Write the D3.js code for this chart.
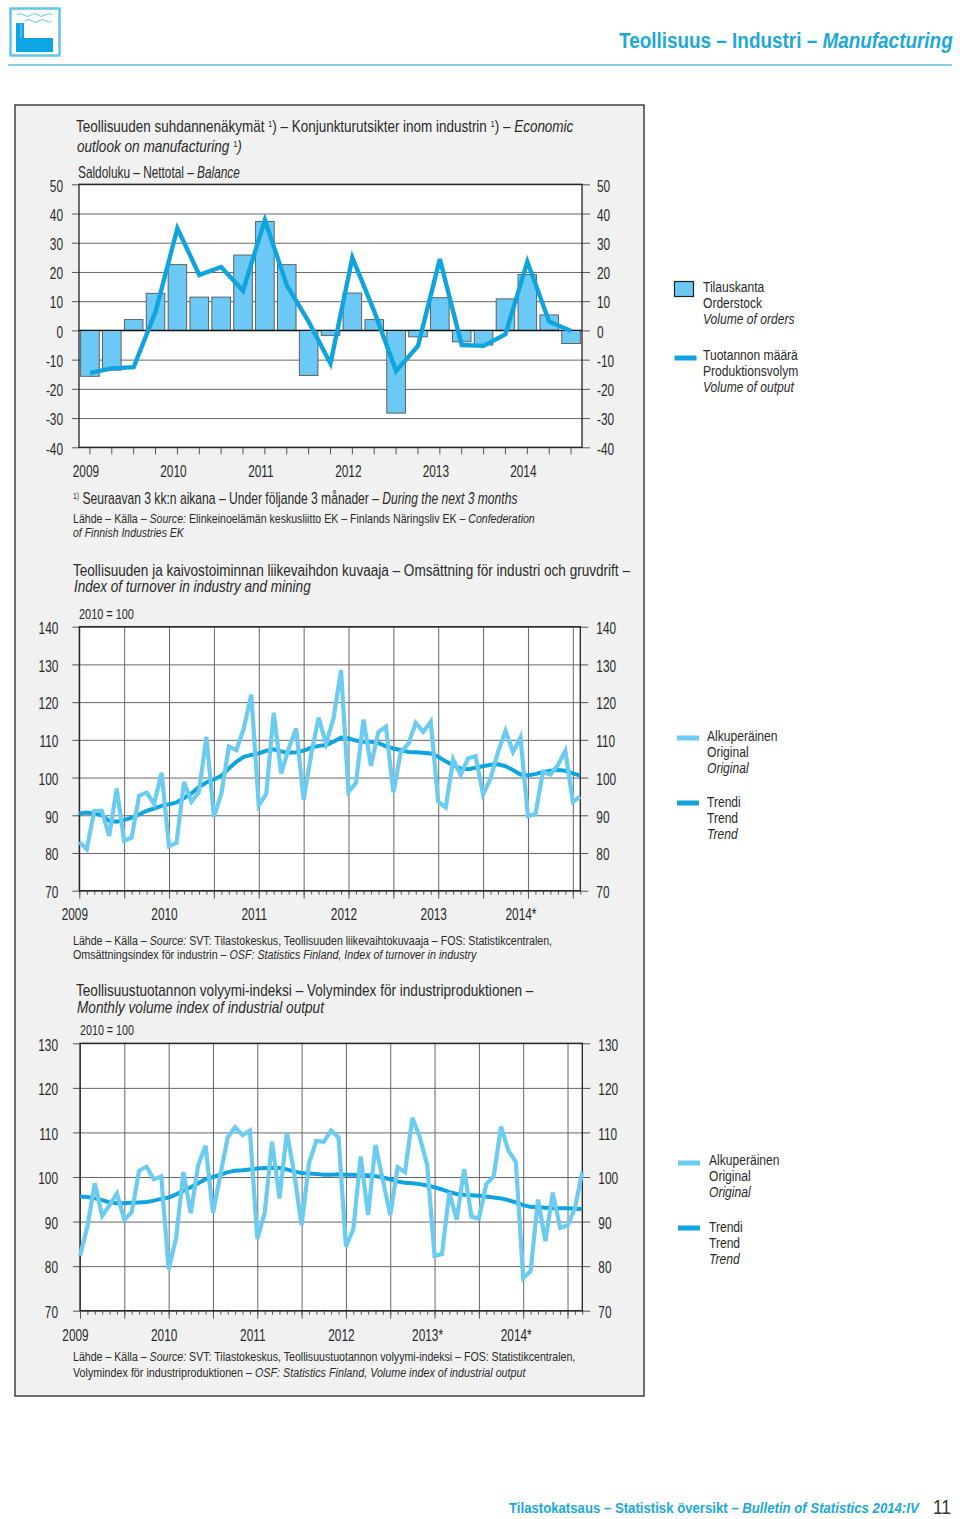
<!DOCTYPE html>
<html>
<head>
<meta charset="utf-8">
<script src="https://d3js.org/d3.v7.min.js"></script>
<style>
    html, body { margin: 0; background: #fff; }
    svg { display: block; }
    text { font-family: "Liberation Sans", sans-serif; fill: #2a2a2a; }
    .axis text { font-size: 16px; }
</style>
</head>
<body>
<div id="chart"></div>

<script>
    // Chart 1: quarterly, balance
    var quarters = ["2009Q1","2009Q2","2009Q3","2009Q4","2010Q1","2010Q2","2010Q3","2010Q4","2011Q1","2011Q2","2011Q3","2011Q4",
        "2012Q1","2012Q2","2012Q3","2012Q4","2013Q1","2013Q2","2013Q3","2013Q4","2014Q1","2014Q2","2014Q3"];
    var orderStock = [-15.7,-13.6,3.7,12.7,22.5,11.4,11.4,25.8,37.3,22.5,-15.4,-1.7,12.8,3.7,-28.3,-2.2,11.2,-3.9,-5.0,10.8,19.1,5.3,-4.5];
    var outputVolume = [-14.5,-13,-12.6,6.4,34.9,19,21.7,13.6,37.8,15.5,3,-11.3,24.9,6.5,-13.9,-5.3,24.4,-5,-5.3,-1.3,23.5,3,-0.2];
    var balanceTicks = [50,40,30,20,10,0,-10,-20,-30,-40];
    var quarterLabels = ["2009","2010","2011","2012","2013","2014"];

    // Chart 2: monthly, turnover index, Jan 2009 - Aug 2014
    var turnoverOriginal = [82.9,81,91.2,91.2,84.5,97.1,83.2,84.1,95.2,96,93,101.3,
        81.8,82.7,98.8,93.6,96.2,110.8,89.6,95.8,108.2,107.3,113,122,
        92.6,95.6,117.2,101.1,107.7,113,94.2,106,115.9,109,115.7,128.5,
        96.2,98.6,115.4,103.1,112.1,113.5,96.1,106.8,108.9,114.5,112.1,114.8,
        93.6,92.1,104.8,100.7,105.1,105.7,95.5,99.8,106.8,112.4,106.8,110.6,
        89.8,90.3,101.5,100.8,103.3,107.1,93.6,94.9];
    var turnoverTrend = [90.5,90.7,90.5,90,88.5,88.3,88.7,89.4,90.2,91.2,91.8,92.5,
        92.9,93.4,94.6,95.8,97.5,98.7,99.5,100.5,102.4,104.2,105.5,106,
        106.4,107.1,107.5,106.9,106.6,106.7,107.1,107.9,108.4,108.6,109.5,110.6,
        110.4,109.8,109.5,109.5,109.2,108.3,107.7,107.3,106.8,106.7,106.6,106.4,
        105.5,104.3,103.3,102.4,102.2,102.6,103,103.4,103.5,103,102,100.8,
        100.6,100.9,101.5,101.8,102,101.8,101.1,100.5];
    var turnoverTicks = [140,130,120,110,100,90,80,70];
    var turnoverYears = ["2009","2010","2011","2012","2013","2014*"];

    // Chart 3: monthly, volume index, Jan 2009 - Sep 2014
    var volumeOriginal = [82.3,88.9,98.6,91.3,93.7,96.3,90.4,92.1,101.4,102.3,99.5,100.1,
        79.3,86.2,101.1,91.9,102.7,107,91.9,100.5,108.9,111.2,109.4,110.4,
        86.1,91.9,107.9,95.2,110,100.8,89.2,103.1,108.1,107.9,110.4,108.9,
        84.4,88.3,104.6,91.5,107.2,99.3,91.5,102.2,101.1,113.3,108.9,102.7,
        82.3,82.7,96.5,90.4,101.7,91.1,90.7,98.4,100.1,111.3,105.9,103.4,
        77.3,78.9,94.9,85.6,96.5,88.6,89.1,93,101.2];
    var volumeTrend = [95.6,95.5,95.2,94.8,94.3,94.1,94.1,94.2,94.3,94.4,94.7,95.1,
        95.4,96.1,96.9,97.7,98.6,99.5,100,100.5,101.1,101.4,101.5,101.7,
        101.9,102,102.1,102,101.7,101.2,100.9,100.8,100.7,100.5,100.5,100.6,
        100.5,100.5,100.4,100.4,100.2,99.9,99.5,99,98.7,98.6,98.4,98.1,
        97.7,97.2,96.6,96.2,96,95.9,95.8,95.6,95.4,95.2,94.8,94.3,
        93.7,93.3,93.2,93.1,93,93,93,92.9,92.8];
    var volumeTicks = [130,120,110,100,90,80,70];
    var volumeYears = ["2009","2010","2011","2012","2013*","2014*"];

    var lightBlue = "#6ccbf1", darkBlue = "#10a4df", barBlue = "#6cc9f5", headBlue = "#1da8da";
    var narrow = 0.74; // no condensed font here, so digits get squeezed sideways

    var svg = d3.select("#chart").append("svg")
        .attr("width", 960)
        .attr("height", 1519);

    function squeeze(sel, k) {
        sel.each(function() {
            var x = +this.getAttribute("x") || 0;
            this.setAttribute("x", 0);
            this.setAttribute("transform", "translate(" + x + ",0) scale(" + k + ",1)");
        });
    }

    // parts = [[string, "i"|"sup"|""], ...]; o.end = right edge the text has to reach
    function label(x, y, parts, o) {
        o = o || {};
        var t = svg.append("text")
            .attr("y", y)
            .style("font-size", (o.size || 16) + "px")
            .style("fill", o.fill || "#2a2a2a")
            .style("font-weight", o.bold ? "bold" : "normal");
        if (typeof parts === "string") parts = [[parts, ""]];
        var lift = 0;
        parts.forEach(function(p) {
            var s = t.append("tspan").text(p[0]);
            if (p[1] === "i") s.style("font-style", "italic");
            if (p[1] === "sup") {
                s.style("font-size", "9px").attr("dy", -5);
                lift = 5;
            } else if (lift) {
                s.attr("dy", lift);
                lift = 0;
            }
        });
        var k = o.end ? (o.end - x) / t.node().getComputedTextLength() : (o.k || 0.78);
        t.attr("transform", "translate(" + x + ",0) scale(" + k + ",1)");
    }

    function yAxes(y, ticks, left, right, padL, padR) {
        // grey grid first
        svg.append("g")
            .attr("transform", "translate(" + left + ",0)")
            .call(d3.axisLeft(y).tickValues(ticks).tickSize(left - right).tickFormat(""))
            .call(function(g) { g.select(".domain").remove(); })
            .selectAll("line").attr("stroke", "#666").attr("stroke-width", 1);
        var l = svg.append("g").attr("class", "axis")
            .attr("transform", "translate(" + left + ",0)")
            .call(d3.axisLeft(y).tickValues(ticks).tickSize(7).tickPadding(padL).tickFormat(String));
        var r = svg.append("g").attr("class", "axis")
            .attr("transform", "translate(" + right + ",0)")
            .call(d3.axisRight(y).tickValues(ticks).tickSize(8).tickPadding(padR).tickFormat(String));
        [l, r].forEach(function(a) {
            a.select(".domain").remove();
            a.selectAll("line").attr("stroke", "#555");
            a.selectAll("text").attr("dy", "0.42em").style("fill", "#2a2a2a").call(squeeze, narrow);
        });
    }

    function frame(left, right, top, bottom) {
        svg.append("rect")
            .attr("x", left).attr("y", top)
            .attr("width", right - left).attr("height", bottom - top)
            .attr("fill", "none").attr("stroke", "#222").attr("stroke-width", 1.3);
    }

    function yearLabels(names, xs, y, shift) {
        svg.append("g").attr("class", "axis")
            .selectAll("text").data(names).enter().append("text")
            .attr("x", function(d, i) { return xs[i] + (d.slice(-1) === "*" ? shift - 2.5 : shift); })
            .attr("y", y)
            .attr("text-anchor", "middle")
            .text(function(d) { return d; })
            .call(squeeze, narrow);
    }

    function monthlyChart(original, trend, ticks, years, box, yearY) {
        var months = original.map(function(d, i) { return i; });
        var x = d3.scalePoint().domain(months).range([box.left, box.right]);
        var y = d3.scaleLinear().domain([ticks[ticks.length - 1], ticks[0]]).range([box.bottom, box.top]);

        svg.append("rect")
            .attr("x", box.left).attr("y", box.top)
            .attr("width", box.right - box.left).attr("height", box.bottom - box.top)
            .attr("fill", "#fff");

        var halfYears = months.filter(function(m) { return m % 6 === 0; });
        svg.append("g")
            .attr("transform", "translate(0," + box.bottom + ")")
            .call(d3.axisBottom(x).tickValues(halfYears).tickSize(box.top - box.bottom).tickFormat(""))
            .call(function(g) { g.select(".domain").remove(); })
            .selectAll("line").attr("stroke", "#666").attr("stroke-width", 1);
        yAxes(y, ticks, box.left, box.right, box.padL, box.padR);

        svg.append("g")
            .attr("transform", "translate(0," + box.bottom + ")")
            .call(d3.axisBottom(x).tickValues(months).tickSize(4).tickFormat(""))
            .call(function(g) { g.select(".domain").remove(); })
            .selectAll("line").attr("stroke", "#555");
        svg.append("g")
            .attr("transform", "translate(0," + box.bottom + ")")
            .call(d3.axisBottom(x).tickValues(halfYears).tickSize(8).tickFormat(""))
            .call(function(g) { g.select(".domain").remove(); })
            .selectAll("line").attr("stroke", "#555");

        frame(box.left, box.right, box.top, box.bottom);

        var line = d3.line().x(function(d, i) { return x(i); }).y(function(d) { return y(d); });
        svg.append("path").datum(trend).attr("d", line)
            .attr("fill", "none").attr("stroke", darkBlue).attr("stroke-width", 4);
        svg.append("path").datum(original).attr("d", line)
            .attr("fill", "none").attr("stroke", lightBlue).attr("stroke-width", 4.2).attr("stroke-linejoin", "miter");

        var yearXs = halfYears.filter(function(m) { return m % 12 === 0; }).map(function(m) { return x(m); });
        yearLabels(years, yearXs, yearY, -4.5);
    }

    function legend(x, swatchX, items) {
        items.forEach(function(it) {
            if (it.bar) {
                svg.append("rect")
                    .attr("x", swatchX).attr("y", it.swatchY - 7)
                    .attr("width", 19).attr("height", 15)
                    .attr("fill", barBlue).attr("stroke", "#222").attr("stroke-width", 1.2);
            } else {
                svg.append("rect")
                    .attr("x", swatchX).attr("y", it.swatchY - 2.5)
                    .attr("width", 22).attr("height", 5)
                    .attr("fill", it.color);
            }
            it.text.forEach(function(s, i) {
                label(x, it.y + i * 16.2, [[s, i === 2 ? "i" : ""]], { size: 15.5, k: 0.78 });
            });
        });
    }

    // header
    svg.append("rect").attr("x", 10.5).attr("y", 8.5).attr("width", 49).attr("height", 47)
        .attr("fill", "#fff").attr("stroke", "#63c6e8").attr("stroke-width", 2.5);
    svg.append("path").attr("d", "M16 23h8v15h29v14h-37z").attr("fill", "#0ea5e4");
    svg.append("path").attr("d", "M21 23v15").attr("stroke", "#8ad6f2").attr("stroke-width", 1);
    svg.append("path").attr("d", "M17 15q3.5 -3 7 0t7 0t7 0t7 0t7 0M25 21q3.5 -3 7 0t7 0t7 0t6 0")
        .attr("fill", "none").attr("stroke", "#63c6e8").attr("stroke-width", 1);
    svg.append("line").attr("x1", 8).attr("x2", 952).attr("y1", 65).attr("y2", 65)
        .attr("stroke", "#5cc0e2").attr("stroke-width", 1.4);
    label(619, 48, [["Teollisuus – Industri – ", ""], ["Manufacturing", "i"]],
        { size: 22, bold: true, fill: headBlue, end: 953 });

    // panel
    svg.append("rect").attr("x", 15).attr("y", 105).attr("width", 629).attr("height", 1291)
        .attr("fill", "#f1f1f1").attr("stroke", "#333").attr("stroke-width", 1.4);

    // chart 1
    label(76, 132, [["Teollisuuden suhdannenäkymät ", ""], ["1", "sup"], [") – Konjunkturutsikter inom industrin ", ""], ["1", "sup"], [") – ", ""], ["Economic", "i"]], { end: 574 });
    label(77, 152, [["outlook on manufacturing ", "i"], ["1", "sup"], [")", "i"]], { end: 242 });
    label(78, 178, [["Saldoluku – Nettotal – ", ""], ["Balance", "i"]], { end: 240 });

    var x1 = d3.scaleBand().domain(quarters).range([79, 582]).paddingInner(0.15).paddingOuter(0.075);
    var y1 = d3.scaleLinear().domain([-40, 50]).range([447.3, 184.3]);

    svg.append("rect").attr("x", 79).attr("y", 184.3).attr("width", 503).attr("height", 263).attr("fill", "#fff");
    yAxes(y1, balanceTicks, 79, 582, 9, 7);

    svg.append("g")
        .attr("transform", "translate(0,447.3)")
        .call(d3.axisBottom(x1).tickSize(7).tickFormat(""))
        .call(function(g) { g.select(".domain").remove(); })
        .selectAll("line").attr("stroke", "#555");

    svg.selectAll(".bar").data(orderStock).enter().append("rect")
        .attr("class", "bar")
        .attr("x", function(d, i) { return x1(quarters[i]); })
        .attr("y", function(d) { return y1(Math.max(0, d)); })
        .attr("width", x1.bandwidth())
        .attr("height", function(d) { return Math.abs(y1(d) - y1(0)); })
        .attr("fill", barBlue).attr("stroke", "#555").attr("stroke-width", 0.9);

    svg.append("line").attr("x1", 79).attr("x2", 582).attr("y1", y1(0)).attr("y2", y1(0))
        .attr("stroke", "#111").attr("stroke-width", 1.3);
    frame(79, 582, 184.3, 447.3);

    svg.append("path").datum(outputVolume)
        .attr("d", d3.line()
            .x(function(d, i) { return x1(quarters[i]) + x1.bandwidth() / 2; })
            .y(function(d) { return y1(d); }))
        .attr("fill", "none").attr("stroke", darkBlue).attr("stroke-width", 4.4);

    yearLabels(quarterLabels, quarterLabels.map(function(d) { return x1(d + "Q1") + x1.bandwidth() / 2; }), 477, -4);

    label(73, 504, [["1)", "sup"], [" Seuraavan 3 kk:n aikana – Under följande 3 månader – ", ""], ["During the next 3 months", "i"]], { end: 518 });
    label(73, 523, [["Lähde – Källa – ", ""], ["Source: ", "i"], ["Elinkeinoelämän keskusliitto EK – Finlands Näringsliv EK – ", ""], ["Confederation", "i"]], { size: 13.5, end: 535 });
    label(73, 537, [["of Finnish Industries EK", "i"]], { size: 13.5, end: 184 });

    legend(703, 674.5, [
        { bar: true, swatchY: 288.5, y: 292, text: ["Tilauskanta", "Orderstock", "Volume of orders"] },
        { color: darkBlue, swatchY: 358, y: 360, text: ["Tuotannon määrä", "Produktionsvolym", "Volume of output"] }
    ]);

    // chart 2
    label(73, 576, "Teollisuuden ja kaivostoiminnan liikevaihdon kuvaaja – Omsättning för industri och gruvdrift –", { end: 630 });
    label(74, 592, [["Index of turnover in industry and mining", "i"]], { end: 311 });
    label(79, 619, "2010 = 100", { size: 15, end: 134 });

    monthlyChart(turnoverOriginal, turnoverTrend, turnoverTicks, turnoverYears,
        { left: 79.3, right: 580.3, top: 626.7, bottom: 890.7, padL: 14, padR: 8 }, 920);

    label(73, 945, [["Lähde – Källa – ", ""], ["Source: ", "i"], ["SVT: Tilastokeskus, Teollisuuden liikevaihtokuvaaja – FOS: Statistikcentralen,", ""]], { size: 13.5, end: 553 });
    label(73, 959, [["Omsättningsindex för industrin – ", ""], ["OSF: Statistics Finland, Index of turnover in industry", "i"]], { size: 13.5, end: 477 });

    legend(707, 677, [
        { color: lightBlue, swatchY: 738, y: 741, text: ["Alkuperäinen", "Original", "Original"] },
        { color: darkBlue, swatchY: 803, y: 807, text: ["Trendi", "Trend", "Trend"] }
    ]);

    // chart 3
    label(76, 996, "Teollisuustuotannon volyymi-indeksi – Volymindex för industriproduktionen –", { end: 534 });
    label(77, 1013, [["Monthly volume index of industrial output", "i"]], { end: 324 });
    label(80, 1035, "2010 = 100", { size: 15, end: 134 });

    monthlyChart(volumeOriginal, volumeTrend, volumeTicks, volumeYears,
        { left: 80, right: 582.3, top: 1043.3, bottom: 1310.7, padL: 15, padR: 8 }, 1341);

    label(73, 1361, [["Lähde – Källa – ", ""], ["Source: ", "i"], ["SVT: Tilastokeskus, Teollisuustuotannon volyymi-indeksi – FOS: Statistikcentralen,", ""]], { size: 13.5, end: 576 });
    label(73, 1377, [["Volymindex för industriproduktionen – ", ""], ["OSF: Statistics Finland, Volume index of industrial output", "i"]], { size: 13.5, end: 526 });

    legend(709, 678, [
        { color: lightBlue, swatchY: 1163, y: 1165, text: ["Alkuperäinen", "Original", "Original"] },
        { color: darkBlue, swatchY: 1228, y: 1232, text: ["Trendi", "Trend", "Trend"] }
    ]);

    // footer
    label(509, 1513, [["Tilastokatsaus – Statistisk översikt – ", ""], ["Bulletin of Statistics 2014:IV", "i"]],
        { size: 15, bold: true, fill: headBlue, end: 919 });
    label(933, 1514, "11", { size: 21, fill: "#333", end: 951 });
</script>
</body>
</html>
